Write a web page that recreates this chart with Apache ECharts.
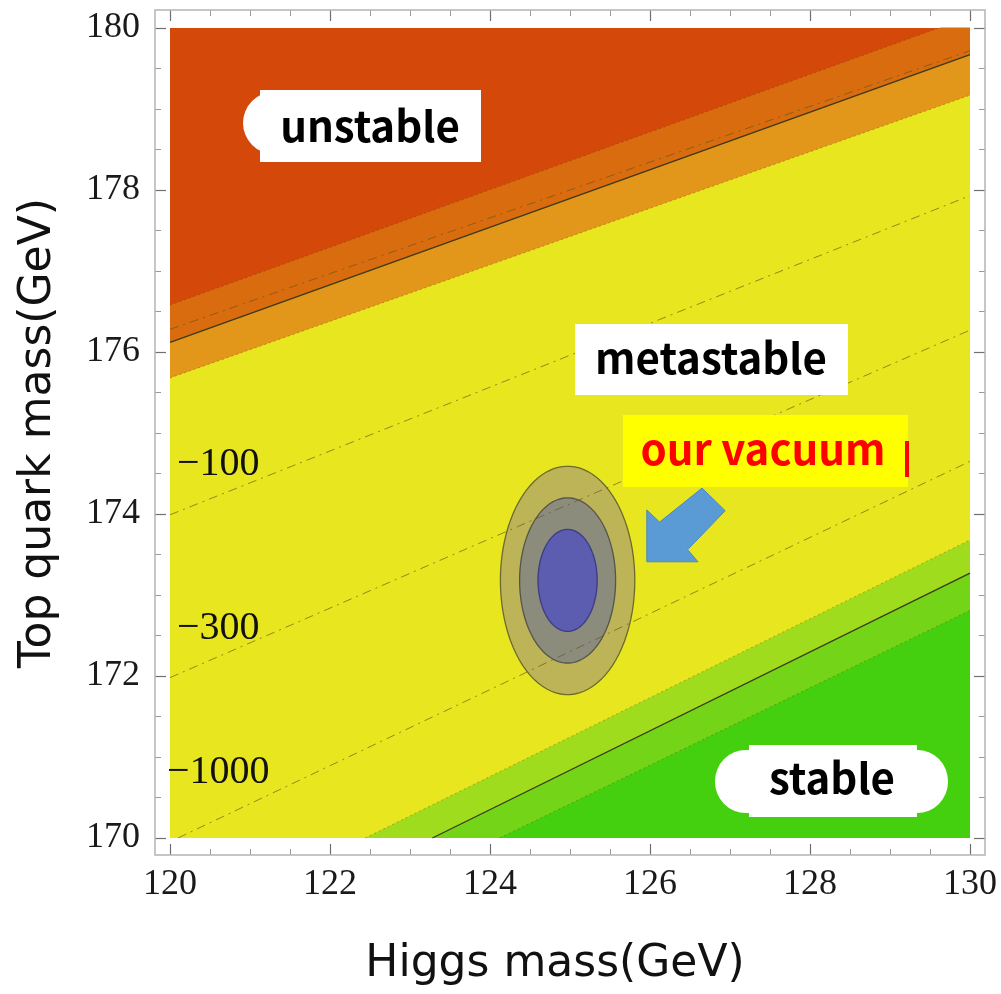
<!DOCTYPE html>
<html lang="en">
  <head>
    <meta charset="UTF-8" />
    <title>Vacuum stability</title>
    <script src="https://cdn.jsdelivr.net/npm/echarts@6/dist/echarts.min.js"></script>
    <style>
      html,
      body {
        width: 100%;
        height: 100%;
        margin: 0;
        padding: 0;
        background: #fff;
      }
      #main {
        width: 1001px;
        height: 994px;
      }
    </style>
  </head>
  <body>
    <div id="main"></div>
    <script type="text/javascript">
      // axis ranges (GeV)
      var higgsRange = [120, 130];
      var topRange = [170, 180];

      // phase boundaries, each from [x0, y0] to [x1, y1]
      var edgeStart = [
        [120, 176.58],
        [120, 176.12],
        [120, 175.68],
        [122.44, 170],
        [123.28, 170],
        [124.12, 170],
      ];
      var edgeEnd = [
        [130, 180.14],
        [130, 179.67],
        [130, 179.17],
        [130, 173.68],
        [130, 173.27],
        [130, 172.81],
      ];
      var edgeSolid = [false, true, false, false, true, false];
      // fill below each boundary
      var bandFill = ["#d96c0e", "#e2961a", "#e8e61e", "#a0dc1e", "#74d418", "#44d00e"];

      // dash-dot contours (label, start, end)
      var contourNames = ["", "-100", "-300", "-1000"];
      var contourStart = [
        [120, 176.28],
        [120, 173.99],
        [120, 171.98],
        [120.1, 170],
      ];
      var contourEnd = [
        [130, 179.72],
        [130, 177.93],
        [130, 176.27],
        [130, 174.65],
      ];

      // measured point: centre and 1/2/3 sigma half widths
      var fitCentre = [124.97, 173.18];
      var sigmaHiggs = [0.84, 0.6, 0.37];
      var sigmaTop = [1.41, 1.02, 0.63];
      var sigmaFill = ["#bcb456", "#8c8c7c", "#5c5cb0"];
      var sigmaStroke = ["#6e6a2e", "#55554a", "#3c3c80"];

      // "our vacuum" arrow outline
      var arrowX = [125.96, 125.96, 126.12, 126.65, 126.94, 126.47, 126.6];
      var arrowY = [173.41, 174.05, 173.9, 174.32, 174.04, 173.56, 173.41];

      var serif = "'Liberation Serif', 'DejaVu Serif', serif";
      var gothic = "'DejaVu Sans', 'Noto Sans', sans-serif";
      var boxFont = "'Noto Sans CJK JP', 'Noto Sans', sans-serif";

      var myChart = echarts.init(document.getElementById("main"));

      var series = [];
      // bands: each line fills down to the axis minimum
      for (var i = 0; i < edgeStart.length; i++) {
        series.push({
          type: "line",
          symbol: "none",
          silent: true,
          z: 2,
          data: [edgeStart[i], edgeEnd[i]],
          lineStyle: edgeSolid[i]
            ? { color: "#3a3a1a", width: 1.3 }
            : { color: "rgba(90,60,0,0.35)", width: 1, type: [2, 3] },
          areaStyle: { color: bandFill[i], opacity: 1, origin: "start" },
        });
      }

      // error ellipses
      var ellipseData = [];
      for (var k = 0; k < sigmaHiggs.length; k++) {
        ellipseData.push([fitCentre[0], fitCentre[1], sigmaHiggs[k], sigmaTop[k]]);
      }
      series.push({
        type: "custom",
        silent: true,
        z: 5,
        data: ellipseData,
        encode: { x: 0, y: 1 },
        renderItem: function (params, api) {
          var cx = api.value(0),
            cy = api.value(1),
            rx = api.value(2),
            ry = api.value(3);
          var pts = [];
          for (var t = 0; t < 90; t++) {
            var a = (t / 90) * Math.PI * 2;
            pts.push(api.coord([cx + rx * Math.cos(a), cy + ry * Math.sin(a)]));
          }
          return {
            type: "polygon",
            z2: params.dataIndex,
            shape: { points: pts },
            style: {
              fill: sigmaFill[params.dataIndex],
              stroke: sigmaStroke[params.dataIndex],
              lineWidth: 1.3,
            },
          };
        },
      });

      // dash-dot contours
      for (var c = 0; c < contourStart.length; c++) {
        series.push({
          type: "line",
          name: contourNames[c],
          symbol: "none",
          silent: true,
          z: 6,
          data: [contourStart[c], contourEnd[c]],
          lineStyle: { color: "rgba(100,85,25,0.65)", width: 1, type: [9, 5, 2, 5] },
        });
      }

      // arrow
      series.push({
        type: "custom",
        silent: true,
        z: 7,
        data: [[arrowX[0], arrowY[0]]],
        encode: { x: 0, y: 1 },
        renderItem: function (params, api) {
          var pts = arrowX.map(function (x, j) {
            return api.coord([x, arrowY[j]]);
          });
          return {
            type: "polygon",
            shape: { points: pts },
            style: { fill: "#5b9bd5", stroke: "#4f88bd", lineWidth: 1 },
          };
        },
      });

      function tickAxis(pos, offset, showLabel) {
        return {
          type: "value",
          position: pos,
          offset: offset,
          interval: 2,
          axisLine: { show: false },
          axisTick: { show: true, inside: true, length: 11, lineStyle: { color: "#707070", width: 1.2 } },
          minorTick: { show: true, splitNumber: 4, length: 6, lineStyle: { color: "#9a9a9a" } },
          splitLine: { show: false },
          minorSplitLine: { show: false },
          axisLabel: {
            show: showLabel,
            color: "#1a1a1a",
            fontFamily: serif,
            fontSize: 36,
            margin: showLabel ? 12 : 8,
          },
        };
      }

      var xBottom = tickAxis("bottom", 17, true);
      xBottom.min = higgsRange[0];
      xBottom.max = higgsRange[1];
      xBottom.name = "Higgs mass(GeV)";
      xBottom.nameLocation = "middle";
      xBottom.nameGap = 88;
      xBottom.nameTextStyle = {
        fontFamily: gothic,
        fontSize: 44,
        color: "#111",
        padding: [0, 30, 0, 0],
      };
      var xTop = tickAxis("top", 18, false);
      xTop.min = higgsRange[0];
      xTop.max = higgsRange[1];

      var yLeft = tickAxis("left", 15, true);
      yLeft.min = topRange[0];
      yLeft.max = topRange[1];
      yLeft.axisLabel.margin = 15;
      yLeft.name = "Top quark mass(GeV)";
      yLeft.nameLocation = "middle";
      yLeft.nameGap = 94;
      yLeft.nameTextStyle = { fontFamily: gothic, fontSize: 44, color: "#111" };
      var yRight = tickAxis("right", 15, false);
      yRight.min = topRange[0];
      yRight.max = topRange[1];

      var boxText = function (txt, x, y, color) {
        return {
          type: "text",
          x: x,
          y: y,
          z: 20,
          style: {
            text: txt,
            fill: color,
            font: "bold 42px " + boxFont,
            align: "center",
            verticalAlign: "middle",
          },
        };
      };
      var contourText = function (txt, x, y) {
        return {
          type: "text",
          x: x,
          y: y,
          z: 20,
          style: { text: txt, font: "40px " + serif, fill: "#111", verticalAlign: "middle" },
        };
      };

      option = {
        animation: false,
        backgroundColor: "#fff",
        grid: {
          left: 170,
          right: 31,
          top: 28,
          bottom: 156,
          show: true,
          backgroundColor: "#d4490a",
          borderWidth: 0,
        },
        xAxis: [xBottom, xTop],
        yAxis: [yLeft, yRight],
        series: series,
        graphic: [
          // frame
          {
            type: "rect",
            z: 10,
            shape: { x: 155, y: 10, width: 830, height: 845 },
            style: { fill: "none", stroke: "#b4b4b4", lineWidth: 1.5 },
          },
          // contour labels
          contourText("\u2212100", 177, 464),
          contourText("\u2212300", 177, 628),
          contourText("\u22121000", 167, 772),
          // unstable
          { type: "rect", z: 19, shape: { x: 243, y: 92, width: 225, height: 62, r: 31 }, style: { fill: "#fff" } },
          { type: "rect", z: 19, shape: { x: 260, y: 90, width: 221, height: 72 }, style: { fill: "#fff" } },
          boxText("unstable", 370, 126, "#000"),
          // metastable
          { type: "rect", z: 19, shape: { x: 575, y: 324, width: 273, height: 71 }, style: { fill: "#fff" } },
          boxText("metastable", 711, 358, "#000"),
          // our vacuum
          { type: "rect", z: 19, shape: { x: 623, y: 415, width: 285, height: 72 }, style: { fill: "#ffff00" } },
          { type: "rect", z: 19, shape: { x: 905, y: 441, width: 4, height: 36 }, style: { fill: "#ff0000" } },
          boxText("our vacuum", 763, 449, "#ff0000"),
          // stable
          { type: "rect", z: 19, shape: { x: 715, y: 750, width: 233, height: 63, r: 31 }, style: { fill: "#fff" } },
          { type: "rect", z: 19, shape: { x: 749, y: 745, width: 168, height: 72 }, style: { fill: "#fff" } },
          boxText("stable", 832, 778, "#000"),
        ],
      };
      myChart.setOption(option);
    </script>
  </body>
</html>
